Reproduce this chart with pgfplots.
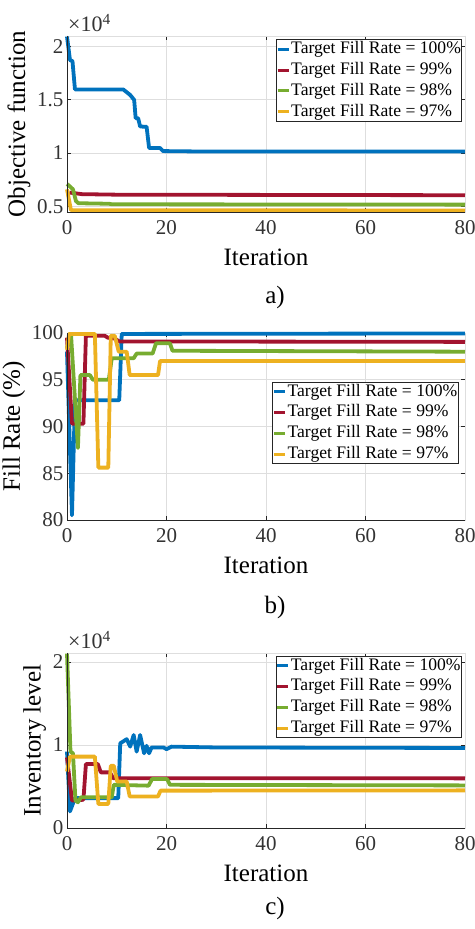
\documentclass[border=0pt]{standalone}
\usepackage{fontspec}
\setmainfont{Liberation Serif}
\usepackage{pgfplots}
\pgfplotsset{compat=1.18}

\definecolor{mblue}{rgb}{0,0.447,0.741}
\definecolor{mred}{rgb}{0.635,0.078,0.184}
\definecolor{mgreen}{rgb}{0.466,0.674,0.188}
\definecolor{myellow}{rgb}{0.929,0.694,0.125}
\definecolor{axgrey}{rgb}{0.15,0.15,0.15}
\definecolor{gridgrey}{rgb}{0.87,0.87,0.87}

\pgfplotsset{
  myaxis/.style={
    scale only axis, width=398bp,
    xmin=0, xmax=80, xtick={0,20,40,60,80},
    grid=major, major grid style={draw=gridgrey, line width=0.8bp},
    axis line style={draw=gridgrey, line width=0.8bp},
    major tick style={draw=axgrey, line width=0.8bp},
    major tick length=4bp,
    tick label style={font=\fontsize{21bp}{25bp}\selectfont, text=black!80},
    xticklabel style={yshift=-5bp},
    /pgf/number format/assume math mode=true,
    label style={font=\fontsize{25bp}{30bp}\selectfont},
    xlabel style={yshift=-7bp},
    xlabel={Iteration},
    clip=false,
    every axis plot/.append style={line width=3.8bp, line join=round},
    legend cell align=left,
    legend image code/.code={\draw[##1, line width=3bp] (0bp,0bp) -- (11bp,0bp);},
    legend style={font=\fontsize{17.6bp}{20bp}\selectfont, draw=axgrey, line width=0.8bp,
      inner xsep=0bp, inner ysep=1.5bp, row sep=4.5bp,
      nodes={inner xsep=1bp, inner ysep=0bp, text height=12.5bp, text depth=3.8bp}},
    every y tick scale label/.style={at={(rel axis cs:0,1)}, anchor=south west, inner sep=0bp,
      yshift=4bp, xshift=1bp, font=\fontsize{22bp}{26bp}\selectfont, text=black!80},
    ytick scale label code/.code={×10\textsuperscript{##1}},
  }
}

\begin{document}
\begin{tikzpicture}
% ---------------- a) ----------------
\begin{axis}[myaxis, at={(67bp,717bp)}, anchor=south west, height=176bp,
  ymin=4480, ymax=20950, ytick={5000,10000,15000,20000},
  scaled y ticks=base 10:-4,
  ylabel={Objective function},
  legend style={at={(1,1)}, anchor=north east, xshift=-2.7bp, yshift=-3.3bp}]
\addplot[mblue] coordinates {(0,20900) (0.6,18700) (1.1,18600) (1.6,15950) (11.3,15950) (12.7,15430) (13.5,14970) (13.8,13260) (14.3,13260) (14.7,12480) (16.0,12450) (16.5,10470) (18.7,10470) (19.3,10180) (25,10150) (80,10150)};
\addlegendentry{Target Fill Rate = 100\%}
\addplot[mred] coordinates {(0.5,6300) (3,6150) (10,6100) (80,6050)};
\addlegendentry{Target Fill Rate = 99\%}
\addplot[mgreen] coordinates {(0,7100) (0.5,6900) (1.2,6600) (1.8,5500) (2.3,5300) (8.5,5250) (9,5200) (80,5170)};
\addlegendentry{Target Fill Rate = 98\%}
\addplot[myellow] coordinates {(0,6600) (0.8,4650) (80,4620)};
\addlegendentry{Target Fill Rate = 97\%}
\draw[axgrey, line width=0.8bp] (rel axis cs:0,1) -- (rel axis cs:0,0) -- (rel axis cs:1,0);
\end{axis}
% ---------------- b) ----------------
\begin{axis}[myaxis, at={(67bp,409bp)}, anchor=south west, height=187bp,
  ymin=80, ymax=100, ytick={80,85,90,95,100},
  ylabel={Fill Rate (\%)},
  legend style={at={(1,0.74)}, anchor=north east, xshift=-6.3bp}]
\addplot[mblue] coordinates {(0,98) (1,80.5) (1.6,92.8) (10.5,92.8) (11,99.9) (80,99.95)};
\addlegendentry{Target Fill Rate = 100\%}
\addplot[mred] coordinates {(0,99.5) (1,90.3) (3.3,90.3) (3.8,99.7) (7.6,99.7) (8.2,99.5) (9.6,99.4) (10.5,99.1) (80,99.05)};
\addlegendentry{Target Fill Rate = 99\%}
\addplot[mgreen] coordinates {(0,98.4) (0.8,99.9) (2.2,87.7) (2.7,95.5) (4.6,95.5) (5.2,95.0) (8.4,95.0) (9.0,97.3) (13.4,97.3) (14,97.8) (17.2,97.8) (17.9,98.9) (20.7,98.9) (21.2,98.1) (80,98.0)};
\addlegendentry{Target Fill Rate = 98\%}
\addplot[myellow] coordinates {(0,98.2) (0.4,99.9) (5.6,99.9) (6.3,85.6) (8.3,85.6) (8.8,99.7) (9.6,99.7) (10.4,98.0) (12,98.0) (12.6,95.5) (18.3,95.5) (18.7,97.0) (80,97.0)};
\addlegendentry{Target Fill Rate = 97\%}
\draw[axgrey, line width=0.8bp] (rel axis cs:0,1) -- (rel axis cs:0,0) -- (rel axis cs:1,0);
\end{axis}
% ---------------- c) ----------------
\begin{axis}[myaxis, at={(67bp,101bp)}, anchor=south west, height=175bp,
  ymin=0, ymax=21080, ytick={0,10000,20000},
  scaled y ticks=base 10:-4,
  ylabel={Inventory level},
  legend style={at={(1,1)}, anchor=north east, xshift=-3bp, yshift=-2.7bp}]
\addplot[mblue] coordinates {(0,9200) (0.6,2000) (1.6,3600) (10.3,3600) (10.7,10200) (12.0,10700) (12.7,9800) (13.4,11200) (14.0,9200) (14.7,11200) (15.5,9000) (16.0,9900) (16.5,9000) (17.0,9700) (19.4,9700) (20,9500) (21,9800) (30,9700) (80,9640)};
\addlegendentry{Target Fill Rate = 100\%}
\addplot[mred] coordinates {(0,8500) (1,3300) (3.3,3400) (3.8,7700) (6.2,7700) (6.8,6700) (8.6,6700) (9.3,6000) (80,5980)};
\addlegendentry{Target Fill Rate = 99\%}
\addplot[mgreen] coordinates {(0,21000) (0.7,9200) (1.2,9000) (1.7,3300) (2.2,3100) (2.8,3700) (9.0,3700) (9.4,5200) (16.4,5100) (17.1,5900) (20.1,5900) (20.7,5200) (80,5130)};
\addlegendentry{Target Fill Rate = 98\%}
\addplot[myellow] coordinates {(0,6800) (0.6,8600) (5.6,8600) (6.3,2900) (8.3,2900) (8.8,7500) (9.4,7500) (10.1,5600) (12,5600) (12.6,3800) (18.3,3800) (18.8,4500) (80,4530)};
\addlegendentry{Target Fill Rate = 97\%}
\draw[axgrey, line width=0.8bp] (rel axis cs:0,1) -- (rel axis cs:0,0) -- (rel axis cs:1,0);
\end{axis}
% sub-figure labels
\node[font=\fontsize{25bp}{30bp}\selectfont] at (275bp,632bp) {a)};
\node[font=\fontsize{25bp}{30bp}\selectfont] at (275bp,322bp) {b)};
\node[font=\fontsize{25bp}{30bp}\selectfont] at (275bp,21bp) {c)};
\pgfresetboundingbox
\useasboundingbox (0bp,0bp) rectangle (475bp,929bp);
\end{tikzpicture}
\end{document}
